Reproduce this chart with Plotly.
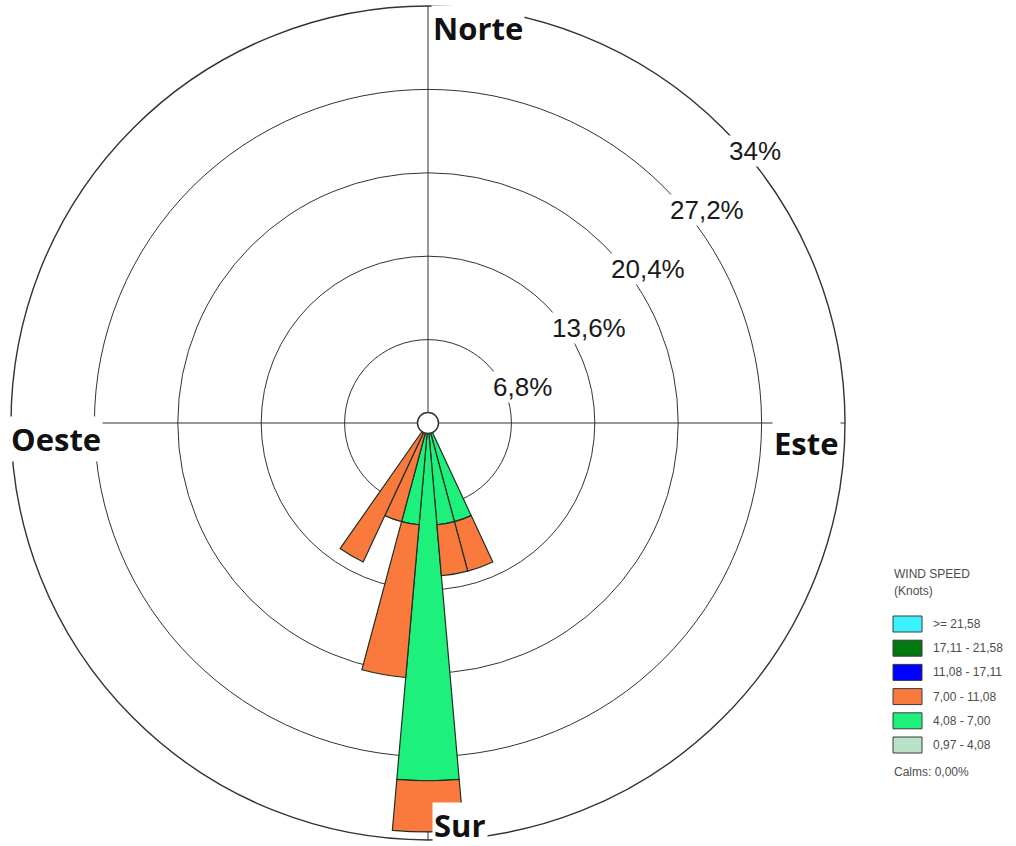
import math
import plotly.graph_objects as go

# 36 direction sectors of 10 degrees (bearing, clockwise from north)
directions = list(range(0, 360, 10))

# Frequency (%) per sector for each wind-speed class (knots)
freq_097_408 = [0] * 36
freq_408_700 = [0, 0, 0, 0, 0, 0, 0, 0, 0, 0, 0, 0, 0, 0, 0, 0,
                8.33, 8.33, 29.17, 8.33, 0, 0,
                0, 0, 0, 0, 0, 0, 0, 0, 0, 0, 0, 0, 0, 0]
freq_700_1108 = [0, 0, 0, 0, 0, 0, 0, 0, 0, 0, 0, 0, 0, 0, 0, 0,
                 4.17, 4.17, 4.17, 12.5, 8.33, 12.5,
                 0, 0, 0, 0, 0, 0, 0, 0, 0, 0, 0, 0, 0, 0]
freq_1108_1711 = [0] * 36
freq_1711_2158 = [0] * 36
freq_2158_up = [0] * 36

speed_classes = ["0,97 - 4,08", "4,08 - 7,00", "7,00 - 11,08",
                 "11,08 - 17,11", "17,11 - 21,58", ">= 21,58"]
class_colors = ["#B9E3C6", "#1EF07C", "#FA7A3E", "#0000FF", "#007A0F", "#3CF2FF"]
class_freqs = [freq_097_408, freq_408_700, freq_700_1108,
               freq_1108_1711, freq_1711_2158, freq_2158_up]

ring_values = [6.8, 13.6, 20.4, 27.2, 34]
ring_labels = ["6,8%", "13,6%", "20,4%", "27,2%", "34%"]
compass_labels = ["Norte", "Este", "Sur", "Oeste"]
calms_text = "Calms: 0,00%"

W, H = 1016, 846
CX, CY, RPX = 428, 423, 417   # polar centre and outer radius in pixels
RMAX = ring_values[-1]


def px(x):
    return x / W


def py(y):
    return 1 - y / H


fig = go.Figure()

for name, color, freq in zip(speed_classes, class_colors, class_freqs):
    th = [d for d, v in zip(directions, freq) if v > 0]
    rr = [v for v in freq if v > 0]
    if not rr:
        continue
    fig.add_trace(go.Barpolar(
        r=rr, theta=th, width=10, name=name,
        marker=dict(color=color, line=dict(color="#1f2f22", width=1.2)),
        showlegend=False,
    ))

# calm circle in the middle
fig.add_trace(go.Scatterpolar(
    r=[0], theta=[0], mode="markers", showlegend=False, hoverinfo="skip",
    marker=dict(size=21, color="white", line=dict(color="#333333", width=1.5)),
))

grid = "#333333"
fig.update_layout(
    width=W, height=H,
    margin=dict(l=0, r=0, t=0, b=0),
    paper_bgcolor="white",
    showlegend=False,
    polar=dict(
        domain=dict(x=[px(CX - RPX), px(CX + RPX)], y=[py(CY + RPX), py(CY - RPX)]),
        bgcolor="white",
        barmode="stack", bargap=0,
        radialaxis=dict(range=[0, RMAX], tickvals=ring_values, showticklabels=False,
                        ticks="", showline=False, gridcolor=grid, gridwidth=1.4,
                        layer="below traces"),
        angularaxis=dict(direction="clockwise", rotation=90,
                         tickvals=[0, 90, 180, 270], showticklabels=False, ticks="",
                         gridcolor=grid, gridwidth=1.4, showline=True,
                         linecolor=grid, linewidth=1.4, layer="below traces"),
    ),
)

annotations = []

# ring percentage labels just below the rings on the north-east diagonal
for val, lab in zip(ring_values, ring_labels):
    rp = val / RMAX * RPX
    ang = math.radians(45)
    x = CX + rp * math.cos(ang) + 5
    y = CY - rp * math.sin(ang) + 23
    annotations.append(dict(
        x=px(x), y=py(y), xref="paper", yref="paper", text=lab, showarrow=False,
        xanchor="left", yanchor="middle", bgcolor="white", borderpad=0,
        font=dict(family="Liberation Sans, Arial", size=26, color="#1a1a1a"),
    ))

# compass point names
compass_pos = [(478, 28), (806, 443), (460, 825), (56, 439)]
for lab, (x, y) in zip(compass_labels, compass_pos):
    annotations.append(dict(
        x=px(x), y=py(y), xref="paper", yref="paper", text=lab, showarrow=False,
        xanchor="center", yanchor="middle", bgcolor="white", borderpad=1,
        font=dict(family="Open Sans", size=31, color="#111111", weight="bold"),
    ))

# speed-class key
key_font = dict(family="Liberation Sans, Arial", size=12, color="#4d4d4d")
annotations.append(dict(x=px(892), y=py(574), xref="paper", yref="paper",
                        text="WIND SPEED", showarrow=False, xanchor="left",
                        yanchor="middle", font=key_font))
annotations.append(dict(x=px(892), y=py(591), xref="paper", yref="paper",
                        text="(Knots)", showarrow=False, xanchor="left",
                        yanchor="middle", font=key_font))

shapes = []
row_y0, row_step = 624, 24.2
for i, (name, color) in enumerate(zip(speed_classes[::-1], class_colors[::-1])):
    yc = row_y0 + i * row_step
    shapes.append(dict(type="rect", xref="paper", yref="paper",
                       x0=px(893), x1=px(922), y0=py(yc + 8), y1=py(yc - 8),
                       fillcolor=color, line=dict(color="#3a3a3a", width=1)))
    annotations.append(dict(x=px(931), y=py(yc), xref="paper", yref="paper",
                            text=name, showarrow=False, xanchor="left",
                            yanchor="middle", font=key_font))
annotations.append(dict(x=px(892), y=py(772), xref="paper", yref="paper",
                        text=calms_text, showarrow=False, xanchor="left",
                        yanchor="middle", font=key_font))

fig.update_layout(annotations=annotations, shapes=shapes)

fig.write_html("out.html")
